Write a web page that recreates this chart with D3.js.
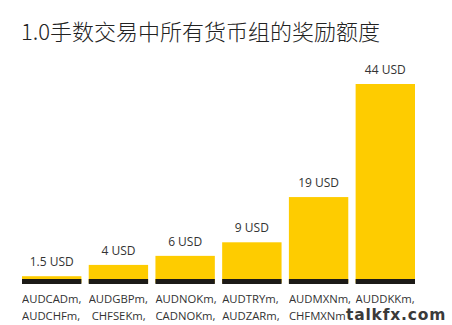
<!DOCTYPE html>
<html><head><meta charset="utf-8">
<script src="https://cdn.jsdelivr.net/npm/d3@7"></script>
<style>body{margin:0;background:#fff}svg{display:block}</style>
</head><body>
<script>
const title = "1.0手数交易中所有货币组的奖励额度";
const values = [1.5, 4, 6, 9, 19, 44];
const valueLabels = ["1.5 USD", "4 USD", "6 USD", "9 USD", "19 USD", "44 USD"];
const line1 = ["AUDCADm,", "AUDGBPm,", "AUDNOKm,", "AUDTRYm,", "AUDMXNm,", "AUDDKKm,"];
const line2 = ["AUDCHFm,", " CHFSEKm,", "CADNOKm,", "AUDZARm,", "CHFMXNm", ""];
const groups = d3.range(values.length);

const W = 452, H = 325;
const svg = d3.select("body").append("svg").attr("width", W).attr("height", H);

const x = d3.scaleBand().domain(groups).range([22, 415]).paddingInner(0.11).paddingOuter(0);
const y = d3.scaleLinear().domain([0, 44]).range([283, 84]);

svg.append("text").attr("x", 21).attr("y", 40)
  .attr("font-family", "'Noto Sans CJK SC', sans-serif").attr("font-size", 22)
  .attr("font-weight", 300).attr("fill", "#222").text(title);

svg.selectAll("rect.bar").data(groups).join("rect").attr("class", "bar")
  .attr("x", i => x(i)).attr("width", x.bandwidth())
  .attr("y", i => y(values[i])).attr("height", i => y(0) - y(values[i]))
  .attr("fill", "#FECC00");

svg.selectAll("rect.base").data(groups).join("rect").attr("class", "base")
  .attr("x", i => x(i)).attr("width", x.bandwidth())
  .attr("y", 279).attr("height", 5).attr("fill", "#1c1a17");

svg.selectAll("text.val").data(groups).join("text").attr("class", "val")
  .attr("x", i => x(i) + x.bandwidth() / 2).attr("y", i => y(values[i]) - 10)
  .attr("text-anchor", "middle").attr("font-family", "'Open Sans', sans-serif")
  .attr("font-size", 12).attr("fill", "#333").text(i => valueLabels[i]);

const defs = svg.append("defs");
groups.forEach(i => {
  defs.append("clipPath").attr("id", "c" + i).append("rect")
    .attr("x", x(i)).attr("y", 288).attr("width", x.step() - 1).attr("height", 37);
});

const cat = svg.selectAll("g.cat").data(groups).join("g").attr("class", "cat")
  .attr("clip-path", i => `url(#c${i})`)
  .attr("font-family", "'Open Sans', sans-serif").attr("font-size", 11.3).attr("fill", "#333");
cat.append("text").attr("x", i => x(i)).attr("y", 303)
  .style("white-space", "pre").text(i => line1[i]);
cat.append("text").attr("x", i => x(i)).attr("y", 320)
  .style("white-space", "pre").text(i => line2[i]);

svg.append("text").attr("x", 346).attr("y", 320)
  .attr("font-family", "'DejaVu Sans', sans-serif").attr("font-weight", "bold")
  .attr("font-size", 15.5).attr("letter-spacing", 0.8).attr("fill", "#3a3a3a")
  .attr("stroke", "#fff").attr("stroke-width", 1.5).attr("paint-order", "stroke")
  .text("talkfx.com");
</script>
</body></html>
